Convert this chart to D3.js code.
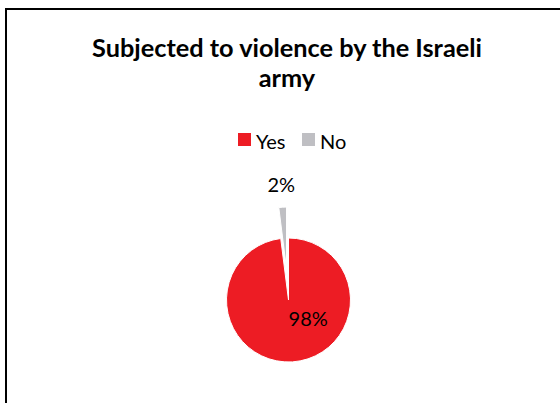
<!DOCTYPE html>
<html>
<head>
<meta charset="utf-8">
<script src="https://cdn.jsdelivr.net/npm/d3@7"></script>
<style>
  body { margin: 0; background: #fff; }
  text { font-family: Lato, "Open Sans", sans-serif; }
</style>
</head>
<body>
<div id="chart"></div>
<script>
// chart data
const categories = ['Yes', 'No']
const values = [98, 2]
const colors = ['#ED1C24', '#BFBFC3']
const titleLines = ['Subjected to violence by the Israeli', 'army']

const width = 560, height = 403

const svg = d3
  .select('#chart')
  .append('svg')
  .attr('width', width)
  .attr('height', height)

// chart area border (runs off the right and bottom edge)
svg
  .append('rect')
  .attr('x', 6)
  .attr('y', 9)
  .attr('width', width + 20)
  .attr('height', height + 20)
  .attr('fill', '#fff')
  .attr('stroke', '#000')
  .attr('stroke-width', 2)

// title
svg
  .append('text')
  .attr('text-anchor', 'middle')
  .attr('font-weight', 'bold')
  .attr('font-size', 25.3)
  .attr('fill', '#000')
  .selectAll('tspan')
  .data(titleLines)
  .enter()
  .append('tspan')
  .attr('x', 287)
  .attr('y', function(d, i) {
    return 57 + i * 30
  })
  .text(function(d) {
    return d
  })

// legend
const z = d3.scaleOrdinal().domain(categories).range(colors)

const legend = svg
  .append('g')
  .selectAll('g')
  .data(categories)
  .enter()
  .append('g')
  .attr('transform', function(d, i) {
    return 'translate(' + (238 + i * 64) + ',133)'
  })

legend
  .append('rect')
  .attr('width', 13)
  .attr('height', 13)
  .attr('fill', z)

legend
  .append('text')
  .attr('x', 18)
  .attr('y', 16)
  .attr('font-size', 20)
  .attr('fill', '#000')
  .text(function(d) {
    return d
  })

// pie
const cx = 288.5, cy = 300, radius = 62, explode = 31

const pie = d3
  .pie()
  .sort(null)
  .value(function(d) {
    return d.value
  })

const arcs = pie(
  categories.map(function(c, i) {
    return { key: c, value: values[i] }
  })
)

const arc = d3.arc().innerRadius(0).outerRadius(radius)
const total = d3.sum(values)

function offset(d) {
  // the "No" slice is pulled out along its bisector
  if (d.data.key !== 'No') return [0, 0]
  const a = (d.startAngle + d.endAngle) / 2
  return [explode * Math.sin(a), -explode * Math.cos(a)]
}

const g = svg.append('g').attr('transform', 'translate(' + cx + ',' + cy + ')')

g
  .selectAll('path')
  .data(arcs)
  .enter()
  .append('path')
  .attr('transform', function(d) {
    return 'translate(' + offset(d) + ')'
  })
  .attr('d', arc)
  .attr('fill', function(d) {
    return z(d.data.key)
  })
  .attr('stroke', '#fff')
  .attr('stroke-width', 1)

const outerLabel = d3.arc().innerRadius(radius + 22).outerRadius(radius + 22)
const innerLabel = d3.arc().innerRadius(radius * 0.44).outerRadius(radius * 0.44)

g
  .selectAll('text.lbl')
  .data(arcs)
  .enter()
  .append('text')
  .attr('class', 'lbl')
  .attr('text-anchor', 'middle')
  .attr('dy', '0.35em')
  .attr('font-size', 20)
  .attr('fill', '#000')
  .attr('transform', function(d) {
    const o = offset(d)
    const c = d.data.key === 'No' ? outerLabel.centroid(d) : innerLabel.centroid(d)
    // inner label sits to the right of the centre, like Excel's best fit
    const shift = d.data.key === 'No' ? 0 : 18
    return 'translate(' + (c[0] + o[0] + shift) + ',' + (c[1] + o[1] - (shift ? 8 : 0)) + ')'
  })
  .text(function(d) {
    return Math.round(d.data.value / total * 100) + '%'
  })
</script>
</body>
</html>
